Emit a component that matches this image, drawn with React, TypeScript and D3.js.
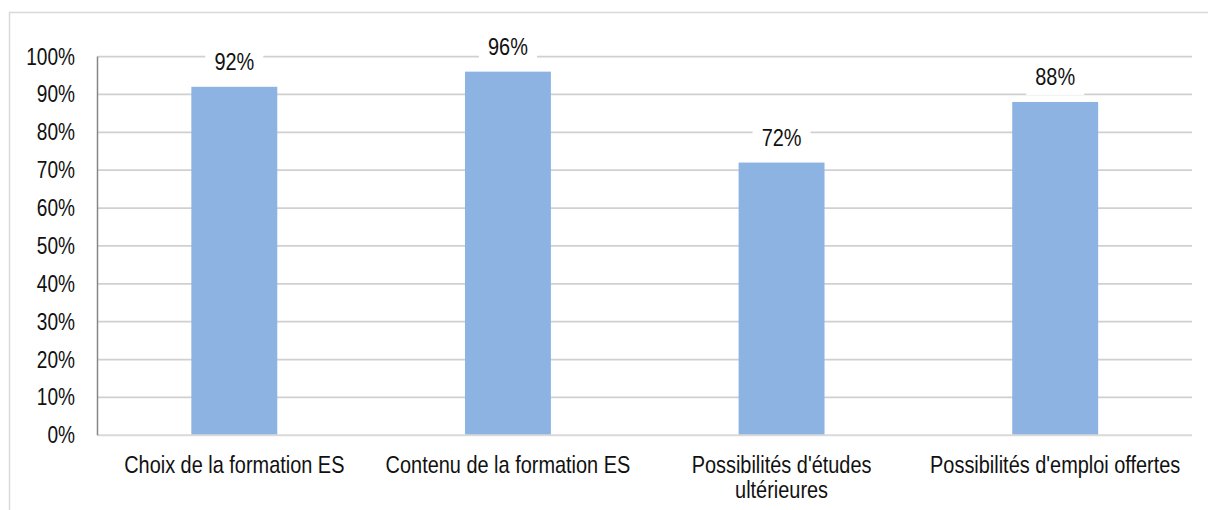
import { useEffect, useRef } from 'react';
import * as d3 from 'd3';

const categories = [
  'Choix de la formation ES',
  'Contenu de la formation ES',
  "Possibilités d'études ultérieures",
  "Possibilités d'emploi offertes",
];
const values = [0.92, 0.96, 0.72, 0.88];
const yTicks = [0, 0.1, 0.2, 0.3, 0.4, 0.5, 0.6, 0.7, 0.8, 0.9, 1];

const WIDTH = 1208;
const HEIGHT = 510;
const FONT = "'Liberation Sans', Arial, sans-serif";
// the reference uses a narrow face; squeeze the regular one horizontally
const NARROW = 0.83;

export default function App() {
  const svgRef = useRef<SVGSVGElement>(null);

  useEffect(() => {
    if (!svgRef.current) return;
    const svg = d3.select(svgRef.current);
    svg.selectAll('*').remove();

    const left = 97.5;
    const right = 1192;
    const top = 56.5;
    const bottom = 435.3;

    // chart frame
    svg
      .append('path')
      .attr('d', `M9.5,${HEIGHT} V12.5 H${WIDTH}`)
      .attr('fill', 'none')
      .attr('stroke', '#d9d9d9')
      .attr('stroke-width', 1.5);

    const x = d3
      .scaleBand<string>()
      .domain(categories)
      .range([left, right])
      .paddingInner(0.686)
      .paddingOuter(0.343);

    const y = d3.scaleLinear().domain([0, 1]).range([bottom, top]);

    // gridlines
    svg
      .append('g')
      .selectAll('line')
      .data(yTicks.filter((t) => t > 0))
      .join('line')
      .attr('x1', left)
      .attr('x2', right)
      .attr('y1', (d) => y(d))
      .attr('y2', (d) => y(d))
      .attr('stroke', '#d0d0d0')
      .attr('stroke-width', 1.75);

    // tick labels
    svg
      .append('g')
      .selectAll('text')
      .data(yTicks)
      .join('text')
      .attr('transform', (d) => `translate(75,${y(d)}) scale(${NARROW},1)`)
      .attr('dy', '0.35em')
      .attr('text-anchor', 'end')
      .attr('font-family', FONT)
      .attr('font-size', 23)
      .attr('fill', '#111')
      .text((d) => `${Math.round(d * 100)}%`);

    // bars
    svg
      .append('g')
      .selectAll('rect')
      .data(values)
      .join('rect')
      .attr('x', (_, i) => x(categories[i])!)
      .attr('y', (d) => y(d))
      .attr('width', x.bandwidth())
      .attr('height', (d) => bottom - y(d))
      .attr('fill', '#8db3e2');

    // x axis line
    svg
      .append('line')
      .attr('x1', left)
      .attr('x2', right)
      .attr('y1', bottom)
      .attr('y2', bottom)
      .attr('stroke', '#d9d9d9')
      .attr('stroke-width', 2);

    // y axis line
    svg
      .append('line')
      .attr('x1', left)
      .attr('x2', left)
      .attr('y1', top)
      .attr('y2', bottom)
      .attr('stroke', '#868686')
      .attr('stroke-width', 1.5);

    // value labels
    const labels = svg
      .append('g')
      .selectAll('g')
      .data(values)
      .join('g')
      .attr(
        'transform',
        (d, i) => `translate(${x(categories[i])! + x.bandwidth() / 2},${y(d) - 17})`
      );
    labels
      .append('rect')
      .attr('x', -29)
      .attr('y', -22)
      .attr('width', 58)
      .attr('height', 32)
      .attr('fill', '#fff');
    labels
      .append('text')
      .attr('transform', `scale(${NARROW},1)`)
      .attr('text-anchor', 'middle')
      .attr('font-family', FONT)
      .attr('font-size', 24)
      .attr('fill', '#111')
      .text((d) => `${Math.round(d * 100)}%`);

    // category labels (wrapped to fit)
    const catG = svg
      .append('g')
      .selectAll('text')
      .data(categories)
      .join('text')
      .attr('transform', (d) => `translate(${x(d)! + x.bandwidth() / 2},473) scale(${NARROW},1)`)
      .attr('text-anchor', 'middle')
      .attr('font-family', FONT)
      .attr('font-size', 24)
      .attr('fill', '#111');

    const maxWidth = (x.step() - 10) / NARROW;
    catG.each(function (d) {
      const text = d3.select(this);
      const words = d.split(' ');
      let line: string[] = [];
      let tspan = text.append('tspan').attr('x', 0).attr('dy', 0);
      for (const w of words) {
        line.push(w);
        tspan.text(line.join(' '));
        if ((tspan.node() as SVGTSpanElement).getComputedTextLength() > maxWidth && line.length > 1) {
          line.pop();
          tspan.text(line.join(' '));
          line = [w];
          tspan = text.append('tspan').attr('x', 0).attr('dy', 25).text(w);
        }
      }
    });
  }, []);

  return (
    <svg
      ref={svgRef}
      width={WIDTH}
      height={HEIGHT}
      style={{ position: 'absolute', left: 0, top: 0, background: '#fff' }}
    />
  );
}
